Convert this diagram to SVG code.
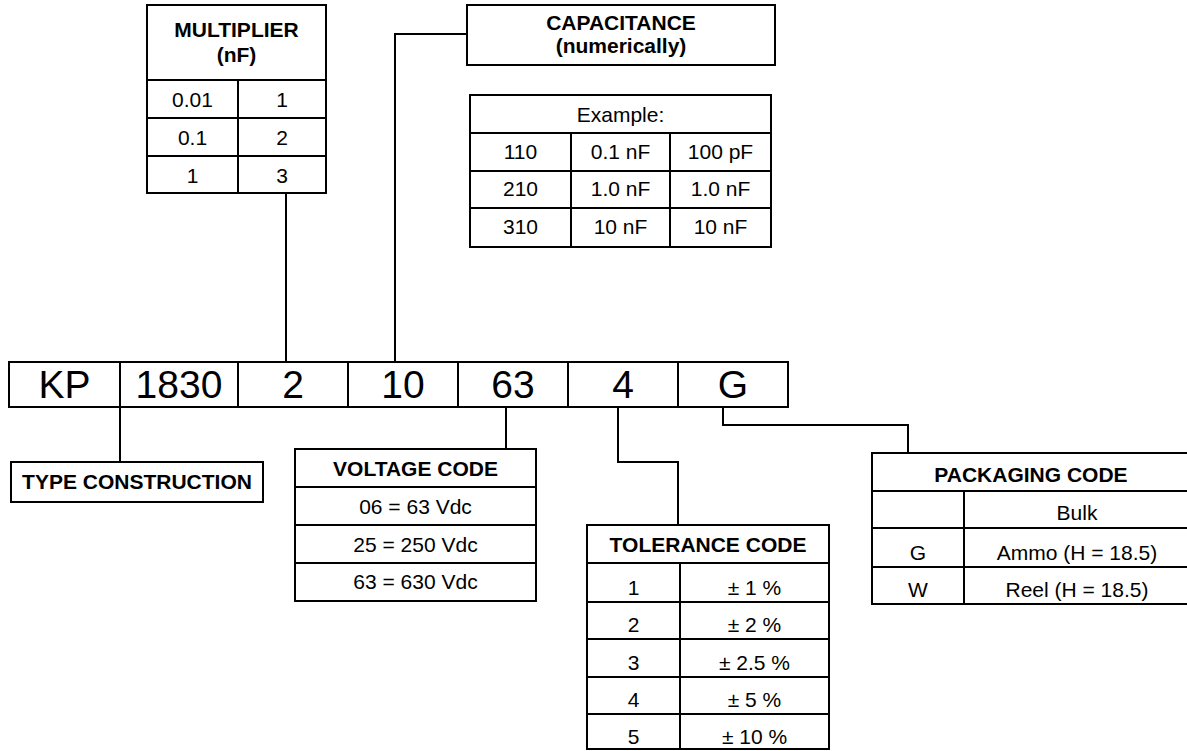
<svg xmlns="http://www.w3.org/2000/svg" width="1187" height="751" viewBox="0 0 1187 751">
<style>
.b{fill:none;stroke:#000;stroke-width:2}
.c{fill:none;stroke:#000;stroke-width:2}
text{font-family:"Liberation Sans",Arial,Helvetica,sans-serif;font-size:21px;text-anchor:middle;fill:#000}
.h{font-weight:bold}
.big{font-size:39px}
</style>
<rect width="1187" height="751" fill="#fff"/>
<g id="connectors">
<path class="c" d="M286,193 V362"/>
<path class="c" d="M395,362 V34 H467"/>
<path class="c" d="M120,407 V462"/>
<path class="c" d="M506,407 V449"/>
<path class="c" d="M618,407 V462 H678 V525"/>
<path class="c" d="M723,407 V425 H908 V453"/>
</g>
<g id="multiplier">
<rect class="b" x="147" y="5" width="179" height="188"/>
<path class="b" d="M147,80 H326 M147,118 H326 M147,156 H326 M238,80 V193"/>
<text class="h" x="236.5" y="37">MULTIPLIER</text>
<text class="h" x="236.5" y="62">(nF)</text>
<text x="192.5" y="107">0.01</text><text x="282" y="107">1</text>
<text x="192.5" y="145">0.1</text><text x="282" y="145">2</text>
<text x="192.5" y="183">1</text><text x="282" y="183">3</text>
</g>
<g id="capacitance">
<rect class="b" x="467" y="5" width="308" height="60"/>
<text class="h" x="621" y="30">CAPACITANCE</text>
<text class="h" x="621" y="53">(numerically)</text>
</g>
<g id="example">
<rect class="b" x="470" y="95" width="301" height="152"/>
<path class="b" d="M470,133 H771 M470,171 H771 M470,208 H771 M571,133 V247 M670,133 V247"/>
<text x="620.5" y="122">Example:</text>
<text x="520.5" y="159">110</text><text x="620.5" y="159">0.1 nF</text><text x="720.5" y="159">100 pF</text>
<text x="520.5" y="196">210</text><text x="620.5" y="196">1.0 nF</text><text x="720.5" y="196">1.0 nF</text>
<text x="520.5" y="234">310</text><text x="620.5" y="234">10 nF</text><text x="720.5" y="234">10 nF</text>
</g>
<g id="partnumber">
<rect class="b" x="9" y="362" width="779" height="45"/>
<path class="b" d="M120,362 V407 M238,362 V407 M348,362 V407 M458,362 V407 M568,362 V407 M678,362 V407"/>
<text class="big" x="64.5" y="398">KP</text>
<text class="big" x="179" y="398">1830</text>
<text class="big" x="293" y="398">2</text>
<text class="big" x="403" y="398">10</text>
<text class="big" x="513" y="398">63</text>
<text class="big" x="623" y="398">4</text>
<text class="big" x="733" y="398">G</text>
</g>
<g id="type-construction">
<rect class="b" x="11" y="462" width="252" height="40"/>
<text class="h" x="137" y="489">TYPE CONSTRUCTION</text>
</g>
<g id="voltage-code">
<rect class="b" x="295" y="449" width="241" height="152"/>
<path class="b" d="M295,487 H536 M295,525 H536 M295,563 H536"/>
<text class="h" x="415.5" y="476">VOLTAGE CODE</text>
<text x="415.5" y="514">06 = 63 Vdc</text>
<text x="415.5" y="552">25 = 250 Vdc</text>
<text x="415.5" y="589">63 = 630 Vdc</text>
</g>
<g id="tolerance-code">
<rect class="b" x="587" y="525" width="242" height="224"/>
<path class="b" d="M587,563 H829 M587,602 H829 M587,639 H829 M587,677 H829 M587,714 H829 M680,563 V749"/>
<text class="h" x="708" y="552">TOLERANCE CODE</text>
<text x="633.5" y="595">1</text><text x="754.5" y="595">± 1 %</text>
<text x="633.5" y="632">2</text><text x="754.5" y="632">± 2 %</text>
<text x="633.5" y="670">3</text><text x="754.5" y="670">± 2.5 %</text>
<text x="633.5" y="707">4</text><text x="754.5" y="707">± 5 %</text>
<text x="633.5" y="744">5</text><text x="754.5" y="744">± 10 %</text>
</g>
<g id="packaging-code">
<rect class="b" x="872" y="453" width="318" height="151"/>
<path class="b" d="M872,491 H1190 M872,528 H1190 M872,567 H1190 M964,491 V604"/>
<text class="h" x="1031" y="482">PACKAGING CODE</text>
<text x="1077" y="520">Bulk</text>
<text x="918" y="560">G</text><text x="1077" y="560">Ammo (H = 18.5)</text>
<text x="918" y="597">W</text><text x="1077" y="597">Reel (H = 18.5)</text>
</g>
</svg>
